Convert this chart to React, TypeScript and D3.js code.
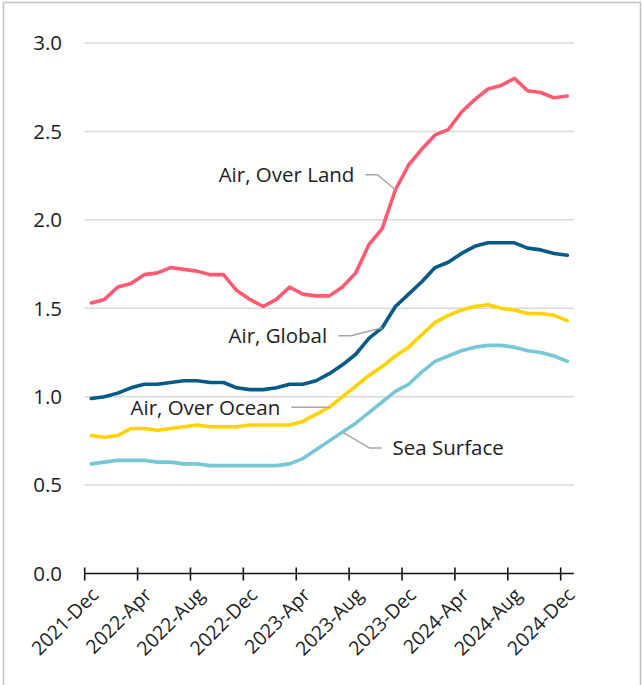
import React, { useRef, useEffect } from "react";
import * as d3 from "d3";

// monthly values, 2021-Dec .. 2024-Dec
const months = d3
  .timeMonth.range(new Date(2021, 11, 1), new Date(2025, 0, 1))
  .map(d3.timeFormat("%Y-%b"));

const overLand = [1.53, 1.55, 1.62, 1.64, 1.69, 1.70, 1.73, 1.72, 1.71, 1.69, 1.69, 1.60, 1.55, 1.51, 1.55, 1.62, 1.58, 1.57, 1.57, 1.62, 1.70, 1.86, 1.95, 2.17, 2.31, 2.40, 2.48, 2.51, 2.61, 2.68, 2.74, 2.76, 2.80, 2.73, 2.72, 2.69, 2.70];
const global = [0.99, 1.00, 1.02, 1.05, 1.07, 1.07, 1.08, 1.09, 1.09, 1.08, 1.08, 1.05, 1.04, 1.04, 1.05, 1.07, 1.07, 1.09, 1.13, 1.18, 1.24, 1.33, 1.39, 1.51, 1.58, 1.65, 1.73, 1.76, 1.81, 1.85, 1.87, 1.87, 1.87, 1.84, 1.83, 1.81, 1.80];
const overOcean = [0.78, 0.77, 0.78, 0.82, 0.82, 0.81, 0.82, 0.83, 0.84, 0.83, 0.83, 0.83, 0.84, 0.84, 0.84, 0.84, 0.86, 0.90, 0.94, 1.00, 1.06, 1.12, 1.17, 1.23, 1.28, 1.35, 1.42, 1.46, 1.49, 1.51, 1.52, 1.50, 1.49, 1.47, 1.47, 1.46, 1.43];
const seaSurface = [0.62, 0.63, 0.64, 0.64, 0.64, 0.63, 0.63, 0.62, 0.62, 0.61, 0.61, 0.61, 0.61, 0.61, 0.61, 0.62, 0.65, 0.70, 0.75, 0.80, 0.85, 0.91, 0.97, 1.03, 1.07, 1.14, 1.20, 1.23, 1.26, 1.28, 1.29, 1.29, 1.28, 1.26, 1.25, 1.23, 1.20];

const yTicks = [0, 0.5, 1.0, 1.5, 2.0, 2.5, 3.0];
const xTickLabels = ["2021-Dec", "2022-Apr", "2022-Aug", "2022-Dec", "2023-Apr", "2023-Aug", "2023-Dec", "2024-Apr", "2024-Aug", "2024-Dec"];

const FONT = "'Open Sans', sans-serif";

function App() {
  const svgRef = useRef(null);

  useEffect(() => {
    const svg = d3.select(svgRef.current);
    svg.selectAll("*").remove();

    const x = d3.scaleBand().domain(months).range([84.7, 573.9]).paddingInner(0).paddingOuter(0);
    const y = d3.scaleLinear().domain([0, 3]).range([573.5, 43]);
    const cx = (i) => x(months[i]) + x.bandwidth() / 2;

    // frame
    svg.append("rect")
      .attr("x", 3.5).attr("y", 2.5).attr("width", 637).attr("height", 700)
      .attr("fill", "white").attr("stroke", "#c4c4c4").attr("stroke-width", 1.5);

    // gridlines
    svg.append("g")
      .selectAll("line")
      .data(yTicks.filter(d => d > 0))
      .join("line")
      .attr("x1", 84.7).attr("x2", 573.9)
      .attr("y1", d => y(d)).attr("y2", d => y(d))
      .attr("stroke", "#d9d9d9").attr("stroke-width", 1.5);

    // y labels
    svg.append("g")
      .selectAll("text")
      .data(yTicks)
      .join("text")
      .attr("x", 62).attr("y", d => y(d))
      .attr("dy", "0.36em")
      .attr("text-anchor", "end")
      .attr("font-family", FONT).attr("font-size", 20.5).attr("fill", "#222")
      .text(d3.format(".1f"));

    // series
    const series = [
      { values: overLand, color: "#ff5a70" },
      { values: global, color: "#045b88" },
      { values: overOcean, color: "#ffd200" },
      { values: seaSurface, color: "#78c7d6" },
    ];
    const line = d3.line().x((d, i) => cx(i)).y(d => y(d));
    svg.append("g")
      .selectAll("path")
      .data(series)
      .join("path")
      .attr("fill", "none")
      .attr("stroke", d => d.color)
      .attr("stroke-width", 3.6)
      .attr("stroke-linejoin", "round")
      .attr("stroke-linecap", "round")
      .attr("d", d => line(d.values));

    // x axis
    const ax = svg.append("g");
    ax.append("line")
      .attr("x1", 84.7).attr("x2", 573.9)
      .attr("y1", y(0)).attr("y2", y(0))
      .attr("stroke", "#111").attr("stroke-width", 1.6);
    ax.selectAll("line.tick")
      .data(xTickLabels)
      .join("line")
      .attr("class", "tick")
      .attr("x1", d => x(d)).attr("x2", d => x(d))
      .attr("y1", y(0) - 6).attr("y2", y(0) + 7)
      .attr("stroke", "#111").attr("stroke-width", 1.6);
    ax.selectAll("text")
      .data(xTickLabels)
      .join("text")
      .attr("transform", d => `translate(${x(d) + x.bandwidth() / 2 - 1},${y(0) + 13}) rotate(-45)`)
      .attr("text-anchor", "end")
      .attr("dy", "0.7em")
      .attr("font-family", FONT).attr("font-size", 19.5).attr("fill", "#222")
      .text(d => d);

    // callouts: leader from a series point via a knee to a short leg, then the text
    const callouts = [
      { text: "Air, Over Land", values: overLand, i: 23, kdx: -18, kdy: -15, leg: -12 },
      { text: "Air, Global", values: global, i: 22, kdx: -31, kdy: 8, leg: -13 },
      { text: "Air, Over Ocean", values: overOcean, i: 18, kdx: 0, kdy: 0, leg: -38 },
      { text: "Sea Surface", values: seaSurface, i: 19, kdx: 27, kdy: 16, leg: 12 },
    ];
    const cg = svg.append("g");
    callouts.forEach(c => {
      const ex = cx(c.i), ey = y(c.values[c.i]);
      const kx = ex + c.kdx, ky = ey + c.kdy;
      const sx = kx + c.leg;
      cg.append("path")
        .attr("d", d3.line()([[ex, ey], [kx, ky], [sx, ky]]))
        .attr("fill", "none").attr("stroke", "#a6a6a6").attr("stroke-width", 1.5);
      const right = c.leg < 0;
      cg.append("text")
        .attr("x", right ? sx - 11 : sx + 11)
        .attr("y", ky)
        .attr("dy", "0.36em")
        .attr("text-anchor", right ? "end" : "start")
        .attr("font-family", FONT).attr("font-size", 20.5).attr("fill", "#222")
        .text(c.text);
    });
  }, []);

  return (
    <svg
      ref={svgRef}
      width={642}
      height={685}
      style={{ position: "absolute", left: 0, top: 0, background: "white" }}
    />
  );
}

export default App;
